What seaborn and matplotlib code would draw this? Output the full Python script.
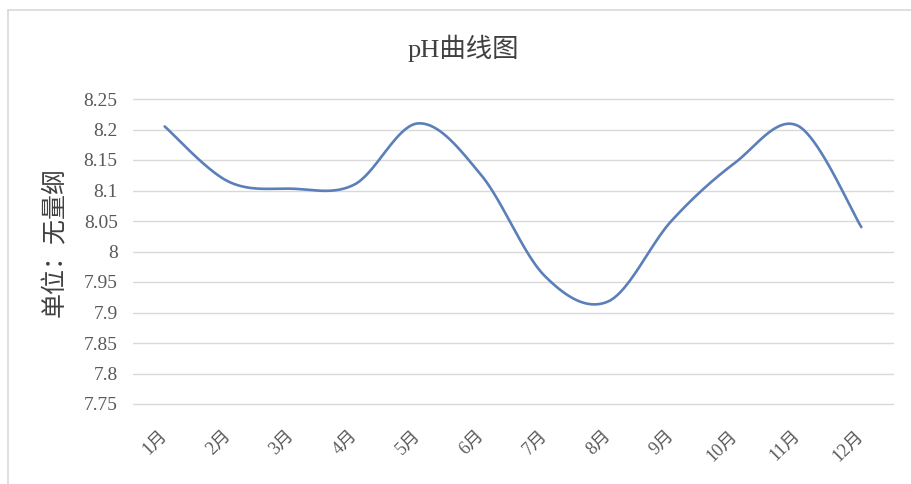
import numpy as np
import pandas as pd
import matplotlib
matplotlib.use("Agg")
import matplotlib.pyplot as plt
from matplotlib.lines import Line2D
import seaborn as sns

# Monthly pH readings
months = ["1月", "2月", "3月", "4月", "5月", "6月", "7月", "8月", "9月", "10月", "11月", "12月"]
ph_values = [8.205, 8.115, 8.103, 8.110, 8.210, 8.125, 7.960, 7.918, 8.050, 8.145, 8.206, 8.040]
y_ticks = [7.75, 7.80, 7.85, 7.90, 7.95, 8.00, 8.05, 8.10, 8.15, 8.20, 8.25]
y_tick_labels = ["7.75", "7.8", "7.85", "7.9", "7.95", "8", "8.05", "8.1", "8.15", "8.2", "8.25"]

sns.set_theme(style="white")
plt.rcParams["font.family"] = ["Liberation Serif", "Noto Sans CJK SC", "DejaVu Sans"]


def smooth_curve(xs, ys, steps=40):
    """Catmull-Rom style smoothing through every point (spreadsheet 'smoothed line')."""
    xs = np.asarray(xs, float)
    ys = np.asarray(ys, float)
    px = np.concatenate([[xs[0]], xs, [xs[-1]]])
    py = np.concatenate([[ys[0]], ys, [ys[-1]]])
    out_x, out_y = [], []
    for i in range(1, len(px) - 2):
        p0 = np.array([px[i], py[i]])
        p3 = np.array([px[i + 1], py[i + 1]])
        c1 = p0 + (np.array([px[i + 1], py[i + 1]]) - np.array([px[i - 1], py[i - 1]])) / 6.0
        c2 = p3 - (np.array([px[i + 2], py[i + 2]]) - np.array([px[i], py[i]])) / 6.0
        t = np.linspace(0, 1, steps, endpoint=(i == len(px) - 3))
        b = ((1 - t) ** 3)[:, None] * p0 + (3 * (1 - t) ** 2 * t)[:, None] * c1 \
            + (3 * (1 - t) * t ** 2)[:, None] * c2 + (t ** 3)[:, None] * p3
        out_x.append(b[:, 0])
        out_y.append(b[:, 1])
    return np.concatenate(out_x), np.concatenate(out_y)


pos = np.arange(len(months))
sx, sy = smooth_curve(pos, ph_values)
curve = pd.DataFrame({"pos": sx, "ph": sy})

fig = plt.figure(figsize=(9.12, 4.84), dpi=100)
ax = fig.add_axes([133 / 912, 1 - 404 / 484, 760 / 912, 305 / 484])

sns.lineplot(data=curve, x="pos", y="ph", ax=ax, color="#5b7fb9", linewidth=1.9,
             sort=False, estimator=None)

ax.set_xlim(-0.5, len(months) - 0.5)
ax.set_ylim(7.75, 8.25)
ax.set_yticks(y_ticks)
ax.set_yticklabels(y_tick_labels)
ax.set_xticks(pos)
ax.set_xticklabels(months, rotation=45, ha="right", va="center", rotation_mode="anchor")

ax.grid(axis="y", color="#d9d9d9", linewidth=1.0)
ax.grid(axis="x", visible=False)
for gl in ax.get_ygridlines():
    gl.set_clip_on(False)
for s in ax.spines.values():
    s.set_visible(False)
ax.tick_params(axis="y", length=0, pad=11, labelsize=14, labelcolor="#595959")
ax.tick_params(axis="x", length=0, pad=21, labelsize=13, labelcolor="#595959")

ax.set_xlabel("")
ax.set_ylabel("单位：无量纲", fontsize=18, color="#404040",
              family=["Noto Sans CJK SC", "DejaVu Sans"])
ax.yaxis.set_label_coords((68 - 133) / 760, 0.531)

fig.text(463 / 912, 1 - 48 / 484, "pH曲线图", ha="center", va="center",
         fontsize=19, color="#404040")

# chart area frame (left and top edges)
fig.add_artist(Line2D([8 / 912, 8 / 912], [0, 1 - 10 / 484], transform=fig.transFigure,
                      color="#d9d9d9", linewidth=1.2))
fig.add_artist(Line2D([8 / 912, 1], [1 - 10 / 484, 1 - 10 / 484], transform=fig.transFigure,
                      color="#d9d9d9", linewidth=1.2))

fig.savefig("out.png", dpi=100)
